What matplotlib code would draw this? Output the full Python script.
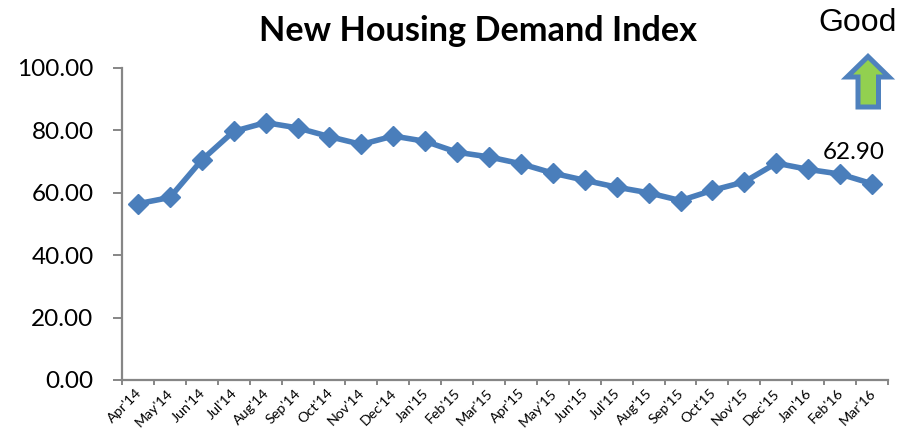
import matplotlib
matplotlib.use("Agg")
import matplotlib.pyplot as plt
from matplotlib.patches import Polygon

months = ["Apr'14","May'14","Jun'14","Jul'14","Aug'14","Sep'14","Oct'14","Nov'14","Dec'14","Jan'15","Feb'15","Mar'15",
          "Apr'15","May'15","Jun'15","Jul'15","Aug'15","Sep'15","Oct'15","Nov'15","Dec'15","Jan'16","Feb'16","Mar'16"]
index_values = [56.5,58.5,70.5,79.7,82.5,80.8,78.0,75.5,78.2,76.5,73.0,71.5,
                69.3,66.3,64.0,61.8,60.0,57.5,60.8,63.5,69.5,67.5,66.0,62.9]
y_ticks = [0,20,40,60,80,100]

W, H = 915, 433
FONT = 'Lato'
fig = plt.figure(figsize=(W/100, H/100), dpi=100)
L, R, T, B = 122, 888, 68, 380
ax = fig.add_axes([L/W, 1-B/H, (R-L)/W, (B-T)/H])
xs = list(range(len(months)))
ax.plot(xs, index_values, color='#4a7ebb', lw=4.0, marker='D', ms=9.8, mec='#4a7ebb', mew=1, clip_on=False)
ax.set_xlim(-0.5, len(months)-0.5)
ax.set_ylim(0, 100)
for s in ('top','right'):
    ax.spines[s].set_visible(False)
for s in ('left','bottom'):
    ax.spines[s].set_color('#868686')
    ax.spines[s].set_linewidth(1.6)
ax.set_yticks(y_ticks)
ax.set_yticklabels([f"{v:.2f}" for v in y_ticks], fontsize=17.5, family=FONT)
ax.set_xticks([x-0.5 for x in xs] + [len(xs)-0.5])
ax.set_xticklabels([])
ax.tick_params(axis='y', length=6.5, width=1.4, color='#868686', pad=14)
ax.tick_params(axis='x', length=3.6, width=1.4, color='#868686', direction='out')
for x, m in zip(xs, months):
    ax.annotate(m, (x, 0), xytext=(-2, -5), textcoords='offset points', rotation=45, ha='right', va='top',
                rotation_mode='anchor', fontsize=10.3, family=FONT)
ax.annotate("62.90", (xs[-1], index_values[-1]), xytext=(-13, 15), textcoords='offset points',
            ha='center', va='bottom', fontsize=17.5, family=FONT)

fig.text(478/W, 1-31/H, "New Housing Demand Index", ha='center', va='center', fontsize=24.7, fontweight='bold', family=FONT)
fig.text(858/W, 1-23/H, "Good", ha='center', va='center', fontsize=23, family='Liberation Sans')

arrow_px = [(868,56.5),(889,77),(878.5,77),(878.5,107),(858,107),(858,77),(847,77)]
fig.add_artist(Polygon([(x/W, 1-y/H) for x, y in arrow_px], closed=True, transform=fig.transFigure,
                       fc='#92d050', ec='#4f81bd', lw=3.6, joinstyle='miter'))
fig.savefig('out.png', dpi=100)
